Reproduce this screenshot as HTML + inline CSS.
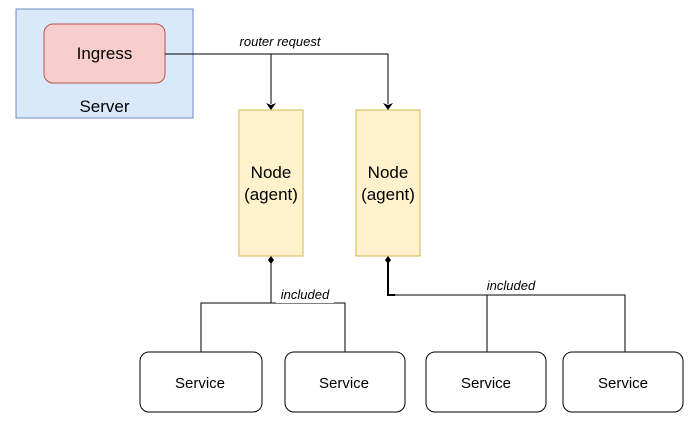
<!DOCTYPE html>
<html><head><style>body{margin:0;background:#fff}</style></head><body>
<svg width="697" height="427" xmlns="http://www.w3.org/2000/svg" font-family="Liberation Sans, sans-serif">
<rect x="16" y="9" width="177" height="109" fill="#dae8fc" stroke="#6c8ebf"/>
<text x="104.5" y="112" font-size="17" text-anchor="middle">Server</text>
<rect x="44" y="24" width="121" height="59" rx="9" fill="#f8cecc" stroke="#b85450"/>
<text x="104.5" y="59" font-size="17" text-anchor="middle">Ingress</text>
<rect x="239" y="110" width="64" height="146" fill="#fff2cc" stroke="#d6b656"/>
<rect x="356" y="110" width="64" height="146" fill="#fff2cc" stroke="#d6b656"/>
<text x="271" y="178" font-size="17" text-anchor="middle">Node</text>
<text x="271" y="200" font-size="17" text-anchor="middle">(agent)</text>
<text x="388" y="178" font-size="17" text-anchor="middle">Node</text>
<text x="388" y="200" font-size="17" text-anchor="middle">(agent)</text>
<g fill="none" stroke="#000">
<path d="M165 54H388V104"/>
<path d="M271 54V104"/>
<path d="M271 262V303H201V352"/>
<path d="M271 303H345V352"/>
<path d="M388 262V295H625V352"/>
<path d="M487 295V352"/>
<path d="M388 262V295H395" stroke-width="2"/>
</g>
<path d="M266 103L271 110L276 103L271 105Z"/>
<path d="M383 103L388 110L393 103L388 105Z"/>
<path d="M271 256L274 260L271 264L268 260Z"/>
<path d="M388 256L391 260L388 264L385 260Z"/>
<rect x="234" y="33" width="94" height="15" fill="#fff"/>
<text x="280" y="46" font-size="13" font-style="italic" text-anchor="middle">router request</text>
<rect x="276" y="288" width="58" height="15" fill="#fff"/>
<text x="305" y="299" font-size="13" font-style="italic" text-anchor="middle">included</text>
<rect x="482" y="279" width="58" height="15" fill="#fff"/>
<text x="511" y="290" font-size="13" font-style="italic" text-anchor="middle">included</text>
<g fill="#fff" stroke="#000">
<rect x="140" y="352" width="122" height="60" rx="9"/>
<rect x="285" y="352" width="120" height="60" rx="9"/>
<rect x="426" y="352" width="120" height="60" rx="9"/>
<rect x="563" y="352" width="120" height="60" rx="9"/>
</g>
<g font-size="15" text-anchor="middle">
<text x="200" y="388">Service</text>
<text x="344" y="388">Service</text>
<text x="486" y="388">Service</text>
<text x="623" y="388">Service</text>
</g>
</svg>
</body></html>
